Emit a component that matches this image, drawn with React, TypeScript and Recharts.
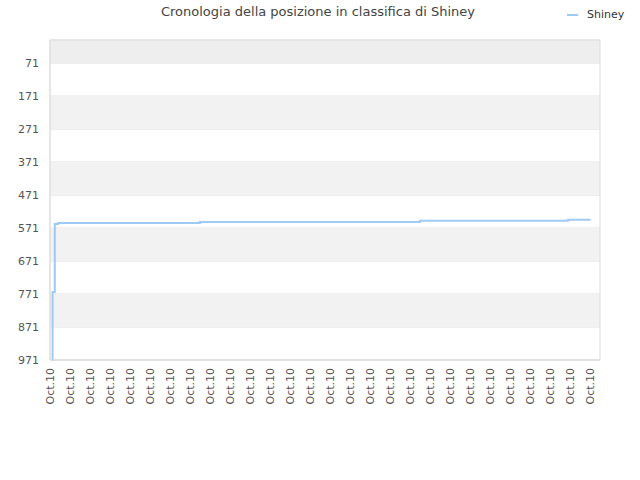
import {
  CartesianGrid,
  Line,
  LineChart,
  ReferenceArea,
  XAxis,
  YAxis,
} from "recharts";

// positions in classifica over time (x = index along the date axis)
const steps = [0.1, 0.13, 0.24, 0.4, 7.5, 18.5, 25.9, 27.03];
const positions = [971, 765, 559, 556, 553, 549, 546, 546];

const dateTicks = Array.from({ length: 28 }, (_, i) => i);
const dateLabel = "Oct.10";
const rankTicks = [71, 171, 271, 371, 471, 571, 671, 771, 871, 971];
const bands: Array<[number, number]> = [
  [171, 271],
  [371, 471],
  [571, 671],
  [771, 871],
];
const seriesName = "Shiney";
const lineColor = "#9ecaf6";

const data = steps.map((x, i) => ({ x, [seriesName]: positions[i] }));

const FONT = "'DejaVu Sans', sans-serif";

const DateTick = (props: any) => {
  const { x, y } = props;
  return (
    <g transform={`translate(${x},${y + 6})`}>
      <text transform="rotate(-90)" textAnchor="end" dy="0.35em" fontSize={11} fill="#555" fontFamily={FONT}>
        {dateLabel}
      </text>
    </g>
  );
};

export default function App() {
  return (
    <div style={{ position: "absolute", left: 0, top: 0, width: 640, height: 480, fontFamily: FONT }}>
      <div
        style={{
          position: "absolute",
          top: 4,
          left: 0,
          width: 636,
          textAlign: "center",
          fontSize: 13,
          color: "#444",
        }}
      >
        Cronologia della posizione in classifica di Shiney
      </div>
      <div style={{ position: "absolute", top: 8, left: 567, fontSize: 11, color: "#333", display: "flex", alignItems: "center" }}>
        <span style={{ display: "inline-block", width: 11, height: 2, background: lineColor, marginRight: 9 }} />
        {seriesName}
      </div>
      <LineChart width={640} height={480} data={data} margin={{ top: 40, right: 40, bottom: 0, left: 0 }}>
        <ReferenceArea x1={0} x2={27.5} y1={1} y2={71} fill="#eeeeee" fillOpacity={1} stroke="none" />
        {bands.map(([a, b]) => (
          <ReferenceArea key={a} x1={0} x2={27.5} y1={a} y2={b} fill="#f2f2f2" fillOpacity={1} stroke="none" />
        ))}
        <CartesianGrid vertical={false} stroke="#e0e0e0" />
        <ReferenceArea x1={0} x2={27.5} y1={1} y2={971} fill="none" stroke="#dddddd" />
        <XAxis
          dataKey="x"
          type="number"
          domain={[0, 27.5]}
          ticks={dateTicks}
          interval={0}
          tickLine={false}
          tickSize={0}
          height={120}
          axisLine={{ stroke: "#dddddd" }}
          tick={<DateTick />}
        />
        <YAxis
          type="number"
          reversed
          domain={[1, 971]}
          ticks={rankTicks}
          interval={0}
          width={50}
          tickLine={false}
          tickSize={0}
          tickMargin={11}
          axisLine={{ stroke: "#dddddd" }}
          tick={{ fontSize: 11, fill: "#555", fontFamily: FONT }}
        />
        <Line
          type="stepAfter"
          dataKey={seriesName}
          stroke={lineColor}
          strokeWidth={2}
          dot={false}
          isAnimationActive={false}
        />
      </LineChart>
    </div>
  );
}
